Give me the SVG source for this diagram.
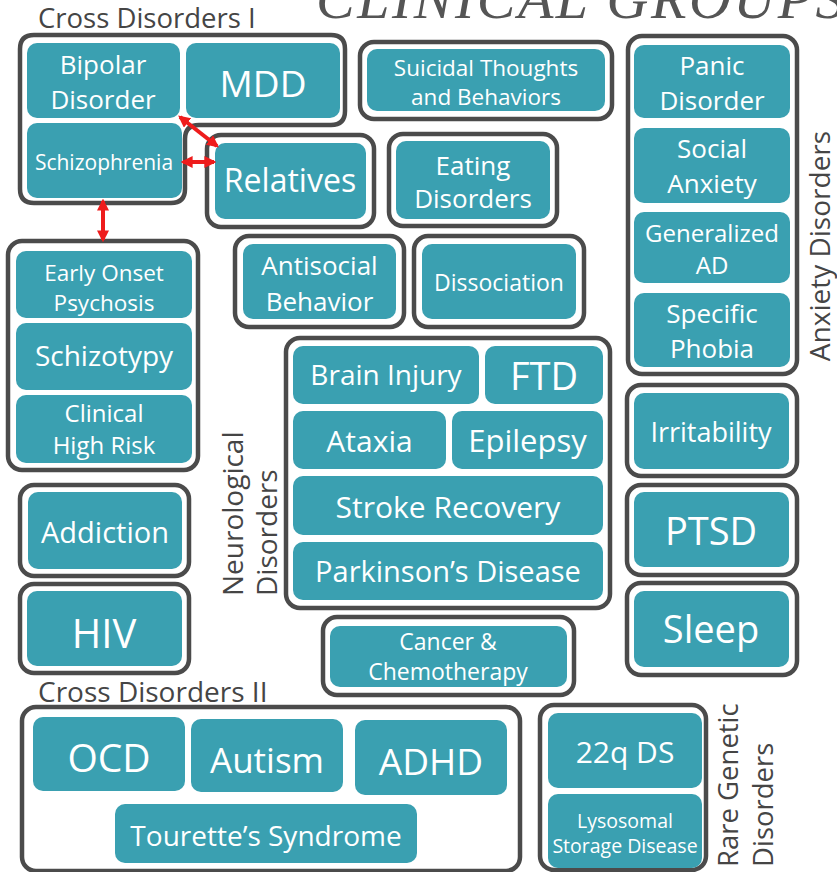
<svg xmlns="http://www.w3.org/2000/svg" width="837" height="872" viewBox="0 0 837 872">
<style>
.box{fill:#3aa0b1}
.grp{fill:#fff;stroke:#4b4b4b;stroke-width:4.5}
.t{font-family:"Open Sans","Liberation Sans",sans-serif;fill:#fff;text-anchor:middle}
.lbl{font-family:"Open Sans","Liberation Sans",sans-serif;fill:#454545}
.title{font-family:"Liberation Serif","Times New Roman",serif;font-style:italic;fill:#555;font-size:58px;letter-spacing:2.5px}
.arr{stroke:#ee1c1c;stroke-width:4;fill:none}
</style>
<defs>
<marker id="ah" viewBox="0 0 10 10" refX="8" refY="5" markerWidth="12" markerHeight="12" markerUnits="userSpaceOnUse" orient="auto-start-reverse">
<path d="M0,0 L10,5 L0,10 z" fill="#ee1c1c"/>
</marker>
</defs>
<rect width="837" height="872" fill="#fff"/>
<text class="title" x="316" y="18">CLINICAL GROUPS</text>

<g id="cross1">
<text class="lbl" x="38" y="28" font-size="27.5">Cross Disorders I</text>
<path class="grp" d="M34,35 H331 Q345,35 345,49 V111 Q345,125 331,125 H199 Q185,125 185,139 V189 Q185,203 171,203 H34 Q20,203 20,189 V49 Q20,35 34,35 Z"/>
<g id="bipolar"><rect class="box" x="27" y="43" width="153" height="75" rx="10"/><text class="t" x="103" font-size="26"><tspan x="103" y="74">Bipolar</tspan><tspan x="103" y="109">Disorder</tspan></text></g>
<g id="mdd"><rect class="box" x="186" y="43" width="154" height="75" rx="10"/><text class="t" x="263" y="97" font-size="37">MDD</text></g>
<g id="schizophrenia"><rect class="box" x="27" y="123" width="155" height="75" rx="10"/><text class="t" x="104" y="170" font-size="21">Schizophrenia</text></g>
</g>

<g id="relatives"><rect class="grp" x="207" y="135" width="167" height="92" rx="14"/><rect class="box" x="215" y="143" width="151" height="76" rx="10"/><text class="t" x="290" y="192" font-size="32">Relatives</text></g>

<g id="suicidal"><rect class="grp" x="360" y="42" width="252" height="77" rx="14"/><rect class="box" x="367" y="49" width="238" height="62" rx="10"/><text class="t" font-size="22.5"><tspan x="486" y="76">Suicidal Thoughts</tspan><tspan x="486" y="105">and Behaviors</tspan></text></g>

<g id="eating"><rect class="grp" x="389" y="134" width="168" height="92" rx="14"/><rect class="box" x="396" y="141" width="154" height="78" rx="10"/><text class="t" font-size="26"><tspan x="473" y="175">Eating</tspan><tspan x="473" y="208">Disorders</tspan></text></g>

<g id="anxiety">
<rect class="grp" x="628" y="36" width="169" height="338" rx="14"/>
<g id="panic"><rect class="box" x="634" y="45" width="156" height="73" rx="10"/><text class="t" font-size="26"><tspan x="712" y="75">Panic</tspan><tspan x="712" y="110">Disorder</tspan></text></g>
<g id="social"><rect class="box" x="634" y="128" width="156" height="75" rx="10"/><text class="t" font-size="26"><tspan x="712" y="158">Social</tspan><tspan x="712" y="193">Anxiety</tspan></text></g>
<g id="gad"><rect class="box" x="634" y="212" width="156" height="71" rx="10"/><text class="t" font-size="24"><tspan x="712" y="242">Generalized</tspan><tspan x="712" y="274">AD</tspan></text></g>
<g id="phobia"><rect class="box" x="634" y="293" width="156" height="74" rx="10"/><text class="t" font-size="26"><tspan x="712" y="323">Specific</tspan><tspan x="712" y="358">Phobia</tspan></text></g>
<text class="lbl" transform="translate(830,246) rotate(-90)" text-anchor="middle" font-size="28">Anxiety Disorders</text>
</g>

<g id="psychosis">
<rect class="grp" x="8" y="241" width="190" height="229" rx="14"/>
<g id="earlyonset"><rect class="box" x="16" y="251" width="176" height="67" rx="10"/><text class="t" font-size="22.5"><tspan x="104" y="281">Early Onset</tspan><tspan x="104" y="311">Psychosis</tspan></text></g>
<g id="schizotypy"><rect class="box" x="16" y="323" width="176" height="67" rx="10"/><text class="t" x="104" y="366" font-size="28">Schizotypy</text></g>
<g id="chr"><rect class="box" x="16" y="395" width="176" height="68" rx="10"/><text class="t" font-size="24"><tspan x="104" y="422">Clinical</tspan><tspan x="104" y="454">High Risk</tspan></text></g>
</g>

<g id="antisocial"><rect class="grp" x="235" y="236" width="169" height="91" rx="14"/><rect class="box" x="243" y="244" width="153" height="75" rx="10"/><text class="t" font-size="26"><tspan x="319.5" y="275">Antisocial</tspan><tspan x="319.5" y="311">Behavior</tspan></text></g>

<g id="dissociation"><rect class="grp" x="414" y="236" width="170" height="91" rx="14"/><rect class="box" x="422" y="244" width="154" height="75" rx="10"/><text class="t" x="499" y="291" font-size="23">Dissociation</text></g>

<g id="neuro">
<rect class="grp" x="286" y="338" width="324" height="270" rx="14"/>
<g id="brain"><rect class="box" x="293" y="346" width="186" height="58" rx="10"/><text class="t" x="386" y="385" font-size="28">Brain Injury</text></g>
<g id="ftd"><rect class="box" x="485" y="346" width="118" height="58" rx="10"/><text class="t" x="544" y="390" font-size="38">FTD</text></g>
<g id="ataxia"><rect class="box" x="293" y="411" width="153" height="58" rx="10"/><text class="t" x="369.5" y="452" font-size="30">Ataxia</text></g>
<g id="epilepsy"><rect class="box" x="452" y="411" width="151" height="58" rx="10"/><text class="t" x="527.5" y="452" font-size="31">Epilepsy</text></g>
<g id="stroke"><rect class="box" x="293" y="476" width="310" height="59" rx="10"/><text class="t" x="448" y="518" font-size="30">Stroke Recovery</text></g>
<g id="parkinson"><rect class="box" x="293" y="542" width="310" height="58" rx="10"/><text class="t" x="448" y="582" font-size="29">Parkinson’s Disease</text></g>
<text class="lbl" transform="translate(243,596) rotate(-90)" font-size="28">Neurological</text>
<text class="lbl" transform="translate(277,596) rotate(-90)" font-size="28">Disorders</text>
</g>

<g id="irritability"><rect class="grp" x="627" y="385" width="170" height="91" rx="14"/><rect class="box" x="634" y="393" width="155" height="76" rx="10"/><text class="t" x="711" y="442" font-size="27">Irritability</text></g>
<g id="ptsd"><rect class="grp" x="627" y="485" width="170" height="90" rx="14"/><rect class="box" x="634" y="492" width="155" height="75" rx="10"/><text class="t" x="711" y="545" font-size="38">PTSD</text></g>
<g id="sleep"><rect class="grp" x="627" y="583" width="170" height="92" rx="14"/><rect class="box" x="634" y="591" width="155" height="76" rx="10"/><text class="t" x="711" y="643" font-size="38">Sleep</text></g>

<g id="addiction"><rect class="grp" x="20" y="485" width="169" height="91" rx="14"/><rect class="box" x="28" y="492" width="154" height="77" rx="10"/><text class="t" x="105" y="543" font-size="29">Addiction</text></g>
<g id="hiv"><rect class="grp" x="20" y="584" width="169" height="89" rx="14"/><rect class="box" x="27" y="591" width="155" height="75" rx="10"/><text class="t" x="104" y="648" font-size="40">HIV</text></g>

<g id="cancer"><rect class="grp" x="323" y="617" width="251" height="78" rx="14"/><rect class="box" x="330" y="626" width="237" height="61" rx="10"/><text class="t" font-size="23"><tspan x="448" y="650">Cancer &amp;</tspan><tspan x="448" y="680">Chemotherapy</tspan></text></g>

<g id="cross2">
<text class="lbl" x="38" y="702" font-size="28">Cross Disorders II</text>
<rect class="grp" x="22" y="707" width="498" height="164" rx="14"/>
<g id="ocd"><rect class="box" x="33" y="717" width="152" height="74" rx="10"/><text class="t" x="109" y="772" font-size="39">OCD</text></g>
<g id="autism"><rect class="box" x="191" y="719" width="152" height="73" rx="10"/><text class="t" x="267" y="773" font-size="35">Autism</text></g>
<g id="adhd"><rect class="box" x="355" y="720" width="152" height="75" rx="10"/><text class="t" x="431" y="775" font-size="37">ADHD</text></g>
<g id="tourette"><rect class="box" x="115" y="804" width="302" height="59" rx="10"/><text class="t" x="266" y="846" font-size="28">Tourette’s Syndrome</text></g>
</g>

<g id="raregenetic">
<rect class="grp" x="540" y="705" width="166" height="165" rx="14"/>
<g id="q22"><rect class="box" x="548" y="713" width="154" height="75" rx="10"/><text class="t" x="625" y="763" font-size="30">22q DS</text></g>
<g id="lysosomal"><rect class="box" x="548" y="794" width="154" height="74" rx="10"/><text class="t" font-size="19.5"><tspan x="625" y="828">Lysosomal</tspan><tspan x="625" y="853">Storage Disease</tspan></text></g>
<text class="lbl" transform="translate(738,867) rotate(-90)" font-size="27.5">Rare Genetic</text>
<text class="lbl" transform="translate(773,867) rotate(-90)" font-size="27.5">Disorders</text>
</g>

<g id="connectors">
<line class="arr" x1="180" y1="117" x2="217" y2="146" marker-start="url(#ah)" marker-end="url(#ah)"/>
<line class="arr" x1="183" y1="162" x2="214" y2="162" marker-start="url(#ah)" marker-end="url(#ah)"/>
<line class="arr" x1="103" y1="201" x2="103" y2="240" marker-start="url(#ah)" marker-end="url(#ah)"/>
</g>
</svg>
